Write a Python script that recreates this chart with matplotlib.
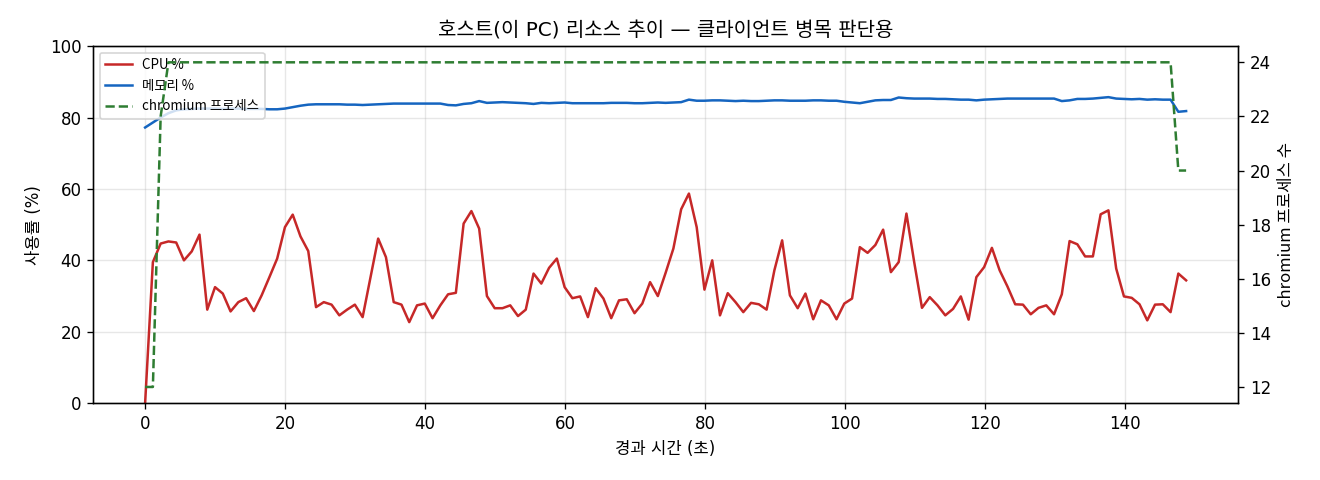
import numpy as np
import matplotlib
matplotlib.use("Agg")
import matplotlib.pyplot as plt

# wide latin metrics for ticks / title, CJK glyphs fall back to Noto
plt.rcParams['font.family'] = ['DejaVu Sans', 'Noto Sans CJK KR']
plt.rcParams['axes.unicode_minus'] = False
CJK_FIRST = ['Noto Sans CJK KR', 'DejaVu Sans']

# sampling interval of the monitor (seconds)
SAMPLE_SEC = 1.11

cpu_pct = [
    0.0, 39.5, 44.7, 45.3, 45.0, 40.0, 42.5, 47.2, 26.2, 32.5,
    30.7, 25.7, 28.3, 29.4, 25.8, 30.2, 35.3, 40.5, 49.3, 52.8,
    46.7, 42.6, 26.9, 28.3, 27.6, 24.6, 26.2, 27.6, 24.1, 35.1,
    46.1, 40.9, 28.3, 27.6, 22.7, 27.4, 27.9, 23.8, 27.4, 30.5,
    30.9, 50.3, 53.8, 48.9, 30.0, 26.6, 26.6, 27.4, 24.4, 26.2,
    36.3, 33.5, 37.9, 40.5, 32.5, 29.4, 29.9, 24.1, 32.2, 29.3,
    23.8, 28.8, 29.1, 25.2, 27.9, 33.9, 30.0, 36.5, 43.3, 54.3,
    58.7, 49.3, 31.8, 40.0, 24.6, 30.8, 28.3, 25.5, 28.1, 27.7,
    26.2, 37.2, 45.6, 30.2, 26.6, 30.7, 23.5, 28.8, 27.4, 23.5,
    27.9, 29.3, 43.7, 42.1, 44.3, 48.6, 36.7, 39.5, 53.1, 39.5,
    26.7, 29.7, 27.4, 24.6, 26.4, 29.9, 23.4, 35.3, 38.1, 43.5,
    37.2, 32.7, 27.7, 27.6, 24.9, 26.7, 27.4, 24.9, 30.5, 45.4,
    44.5, 41.1, 41.1, 52.9, 54.0, 37.7, 29.9, 29.5, 27.7, 23.2,
    27.6, 27.7, 25.5, 36.3, 34.4,
]

mem_pct = [
    77.2, 78.6, 80.0, 81.2, 82.0, 82.3, 82.4, 82.5, 82.5, 82.5,
    82.4, 82.5, 82.5, 82.4, 82.4, 82.4, 82.3, 82.3, 82.5, 82.9,
    83.3, 83.6, 83.7, 83.7, 83.7, 83.7, 83.6, 83.6, 83.5, 83.6,
    83.7, 83.8, 83.9, 83.9, 83.9, 83.9, 83.9, 83.9, 83.9, 83.5,
    83.4, 83.8, 84.0, 84.6, 84.1, 84.2, 84.3, 84.2, 84.1, 84.0,
    83.8, 84.1, 84.0, 84.1, 84.2, 84.0, 84.0, 84.0, 84.0, 84.0,
    84.1, 84.1, 84.1, 84.0, 84.0, 84.1, 84.2, 84.1, 84.2, 84.3,
    85.0, 84.7, 84.7, 84.8, 84.8, 84.7, 84.6, 84.7, 84.6, 84.6,
    84.7, 84.8, 84.8, 84.7, 84.7, 84.7, 84.8, 84.8, 84.7, 84.7,
    84.4, 84.2, 84.0, 84.4, 84.8, 84.9, 84.9, 85.6, 85.4, 85.3,
    85.3, 85.3, 85.2, 85.2, 85.1, 85.0, 85.0, 84.8, 85.0, 85.1,
    85.2, 85.3, 85.3, 85.3, 85.3, 85.3, 85.3, 85.3, 84.6, 84.8,
    85.2, 85.2, 85.3, 85.5, 85.7, 85.3, 85.2, 85.1, 85.2, 85.0,
    85.1, 85.0, 85.0, 81.6, 81.8,
]

chromium_procs = [
    12, 12, 22, 24, 24, 24, 24, 24, 24, 24,
    24, 24, 24, 24, 24, 24, 24, 24, 24, 24,
    24, 24, 24, 24, 24, 24, 24, 24, 24, 24,
    24, 24, 24, 24, 24, 24, 24, 24, 24, 24,
    24, 24, 24, 24, 24, 24, 24, 24, 24, 24,
    24, 24, 24, 24, 24, 24, 24, 24, 24, 24,
    24, 24, 24, 24, 24, 24, 24, 24, 24, 24,
    24, 24, 24, 24, 24, 24, 24, 24, 24, 24,
    24, 24, 24, 24, 24, 24, 24, 24, 24, 24,
    24, 24, 24, 24, 24, 24, 24, 24, 24, 24,
    24, 24, 24, 24, 24, 24, 24, 24, 24, 24,
    24, 24, 24, 24, 24, 24, 24, 24, 24, 24,
    24, 24, 24, 24, 24, 24, 24, 24, 24, 24,
    24, 24, 24, 20, 20,
]

elapsed = np.arange(len(cpu_pct)) * SAMPLE_SEC

fig = plt.figure(figsize=(11, 4), dpi=120)
ax1 = fig.add_subplot()
fig.subplots_adjust(left=0.0705, right=0.938, top=0.904, bottom=0.160)

l1, = ax1.plot(elapsed, cpu_pct, color='#c62828', lw=1.5, label='CPU %')
l2, = ax1.plot(elapsed, mem_pct, color='#1565c0', lw=1.5, label='메모리 %')
ax1.set_ylim(0, 100)
ax1.set_xlabel('경과 시간 (초)')
ax1.set_ylabel('사용률 (%)')
ax1.grid(True, alpha=0.3)

ax2 = ax1.twinx()
l3, = ax2.plot(elapsed, chromium_procs, color='#2e7d32', lw=1.5, ls='--',
               label='chromium 프로세스')
ax2.set_ylabel('chromium 프로세스 수', family=CJK_FIRST)

ax1.legend(handles=[l1, l2, l3], loc='upper left',
           prop={'family': CJK_FIRST, 'size': 8})
ax1.set_title('호스트(이 PC) 리소스 추이 — 클라이언트 병목 판단용', fontsize=12)

fig.savefig('out.png', dpi=120)
